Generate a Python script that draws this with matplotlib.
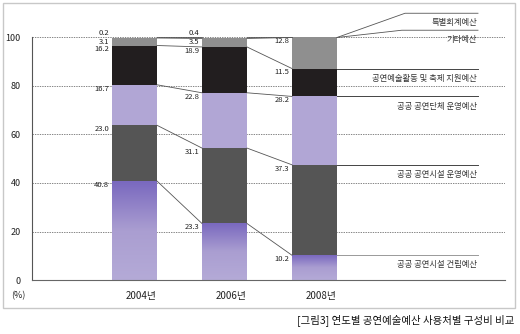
import numpy as np
import matplotlib
matplotlib.use("Agg")
import matplotlib.pyplot as plt
from matplotlib.colors import LinearSegmentedColormap
from matplotlib.patches import Rectangle

plt.rcParams['font.family'] = ['Noto Sans CJK KR', 'DejaVu Sans']

years = ['2004년', '2006년', '2008년']
categories = ['공공 공연시설 건립예산', '공공 공연시설 운영예산', '공공 공연단체 운영예산',
              '공연예술활동 및 축제 지원예산', '기타예산', '특별회계예산']
build = [40.8, 23.3, 10.2]
facility_ops = [23.0, 31.1, 37.3]
troupe_ops = [16.7, 22.8, 28.2]
activity = [16.2, 18.9, 11.5]
other = [3.1, 3.5, 12.8]
special = [0.2, 0.4, 0.0]
yticks = [0, 20, 40, 60, 80, 100]

series = [build, facility_ops, troupe_ops, activity, other, special]
colors = [None, '#555555', '#b1a6d5', '#221e1f', '#8f8f8f', '#a9a9a9']
grad = LinearSegmentedColormap.from_list('g', ['#b4aad7', '#aa9ed1', '#7a69bf'])

W, H = 520, 334
fig = plt.figure(figsize=(W / 100, H / 100), dpi=100)
ax = fig.add_axes([32 / W, 54 / H, 473 / W, 271.6 / H])

x = np.arange(len(years))
bw = 0.5
data = np.array(series)
tops = np.cumsum(data, axis=0)
bottoms = tops - data

for y in yticks[1:]:
    ax.axhline(y, color='#555555', lw=0.5, ls=(0, (2, 1.5)), zorder=0)

# bottom segment with vertical gradient
g = np.linspace(0, 1, 100).reshape(-1, 1)
for i in range(len(years)):
    im = ax.imshow(g, cmap=grad, origin='lower', aspect='auto',
                   extent=[x[i] - bw / 2, x[i] + bw / 2, 0, build[i]], zorder=2)
    r = Rectangle((x[i] - bw / 2, 0), bw, build[i], transform=ax.transData,
                  fc='none', ec='none')
    ax.add_patch(r)
    im.set_clip_path(r)

for k in range(1, len(series)):
    ax.bar(x, data[k], bw, bottom=bottoms[k], color=colors[k], lw=0, zorder=2)

# connecting lines between bars
for i in range(len(years) - 1):
    for k in range(len(series)):
        ax.plot([x[i] + bw / 2, x[i + 1] - bw / 2], [tops[k, i], tops[k, i + 1]],
                color='#555555', lw=0.6, zorder=3)

# value labels left of each bar
for i in range(len(years)):
    prev = None
    for k in range(len(series) - 1, -1, -1):
        v = data[k, i]
        if v == 0:
            continue
        if v < 1:
            yy = tops[k, i] + 1.8
        else:
            yy = tops[k, i] - 1.6
            if prev is not None:
                yy = min(yy, prev - 2.8)
        prev = yy
        ax.text(x[i] - bw / 2 - 0.03, yy, f'{v:.1f}', ha='right', va='center',
                fontsize=5.5, color='#222222', zorder=4)

# right-side category labels
last = len(years) - 1
xr0 = x[last] + bw / 2
xr1 = 3.817
for k in range(len(series)):
    if k >= 4:
        ly = 100 + (3 if k == 4 else 10)
        xm = 2.97 if k == 4 else 3.006
        ax.plot([xr0, xm, xr1], [100, ly, ly], color='#555555', lw=0.6, zorder=3)
    else:
        ly = tops[k, last]
        ax.plot([xr0, xr1], [ly, ly], color='#999999' if k == 0 else '#444444',
                lw=0.7, zorder=3)
    ax.text(3.806, ly - 4, categories[k], ha='right', va='center', fontsize=6,
            color='#333333', zorder=4)

ax.set_xlim(-1.139, 4.117)
ax.set_ylim(0, 112)
ax.set_yticks(yticks)
ax.set_yticklabels([str(t) for t in yticks], fontsize=6.5, color='#222222')
ax.set_xticks(x + bw / 2)
ax.set_xticklabels(years, fontsize=7, color='#222222', ha='right')
ax.tick_params(length=0)
ax.tick_params(axis='y', pad=8)
ax.tick_params(axis='x', pad=8)
for s in ['top', 'right']:
    ax.spines[s].set_visible(False)
ax.spines['left'].set_bounds(0, 100)
ax.spines['left'].set_color('#555555')
ax.spines['bottom'].set_color('#666666')
ax.spines['left'].set_linewidth(0.8)
ax.spines['bottom'].set_linewidth(0.8)

fig.text(18 / W, 1 - 296 / H, '(%)', ha='center', va='center', fontsize=6.5,
         color='#222222')
fig.patches.append(Rectangle((3 / W, 1 - 308 / H), 512 / W, 305 / H,
                             transform=fig.transFigure, fill=False,
                             ec='#c8c8c8', lw=1))
fig.text(514 / W, 1 - 320 / H, '[그림3] 연도별 공연예술예산 사용처별 구성비 비교',
         ha='right', va='center', fontsize=7.5, color='#111111')

fig.savefig('out.png', dpi=100)
